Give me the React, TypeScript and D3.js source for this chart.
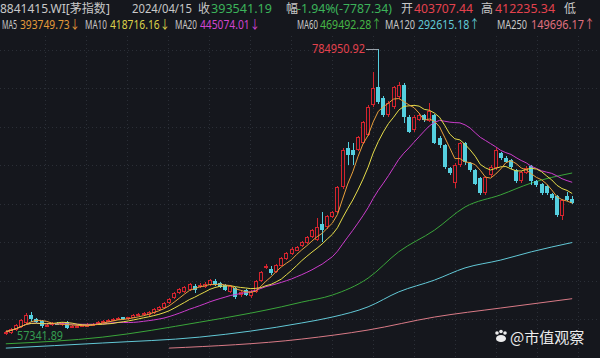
import React, { useLayoutEffect, useRef, useState } from 'react';
import * as d3 from 'd3';

const W = 600;
const H = 358;

// Candles (values in thousands)
const opens = [60, 62, 70, 77, 88, 108, 98, 92, 81, 83, 86, 84, 90, 76, 79, 80, 82, 83, 85, 90, 93, 95, 97, 102, 97, 101, 107, 110, 108, 114, 121, 127, 138, 151, 163, 167, 172, 182, 180, 180, 185, 195, 190, 184, 167, 178, 160, 172, 156, 167, 195, 227, 224, 218, 234, 250, 263, 272, 284, 291, 306, 298, 340, 332, 357, 370, 433, 533, 528, 528, 546, 566, 642, 689, 660, 617, 637, 662, 693, 612, 579, 604, 617, 602, 617, 558, 541, 482, 444, 490, 546, 495, 477, 457, 419, 464, 482, 520, 508, 503, 477, 449, 470, 487, 449, 441, 436, 416, 411, 360, 412, 403.70744];
const closes = [66, 72, 82, 95, 108, 98, 90, 80, 84, 87, 85, 88, 75, 80, 81, 83, 84, 86, 91, 94, 96, 98, 100, 97, 102, 108, 111, 114, 116, 124, 129, 139, 149, 164, 174, 180, 187, 172, 185, 188, 197, 185, 180, 172, 182, 155, 167, 159, 168, 195, 218, 232, 215, 235, 253, 265, 277, 281, 294, 306, 324, 332, 324, 360, 370, 434, 528, 515, 515, 560, 599, 637, 686, 650, 617, 647, 688, 693, 612, 574, 612, 617, 604, 627, 546, 541, 485, 469, 490, 546, 498, 477, 442, 419, 459, 485, 528, 508, 498, 485, 449, 472, 482, 449, 439, 419, 419, 406, 363, 401, 401.32853, 393.54119];
const highs = [70, 74, 85, 98, 113, 115, 100, 95, 88, 90, 90, 91, 93, 83, 84, 85, 87, 88, 93, 96, 98, 100, 102, 104, 104, 110, 113, 116, 118, 126, 131, 141, 151, 166, 176, 183, 190, 187, 190, 192, 200, 200, 193, 187, 185, 180, 170, 175, 171, 197, 221, 238, 232, 238, 256, 268, 280, 284, 297, 309, 327, 355, 370, 363, 373, 437, 532, 548, 546, 564, 603, 642, 726, 784.95092, 665, 652, 692, 701, 698, 617, 617, 622, 620, 647, 620, 563, 543, 485, 495, 549, 549, 498, 480, 460, 462, 490, 533, 523, 512, 506, 480, 475, 487, 490, 452, 444, 439, 419, 414, 404, 420, 412.23534];
const lows = [57.34189, 60, 68, 75, 85, 90, 87, 76, 78, 80, 82, 81, 72, 74, 77, 78, 80, 81, 83, 88, 91, 93, 95, 95, 95, 100, 105, 108, 106, 112, 119, 125, 136, 149, 161, 165, 170, 165, 178, 178, 183, 183, 177, 170, 164, 150, 155, 156, 152, 165, 193, 225, 210, 215, 232, 247, 260, 270, 281, 288, 303, 296, 294, 328, 354, 367, 430, 490, 490, 525, 543, 563, 638, 645, 612, 612, 632, 658, 597, 570, 574, 602, 600, 599, 543, 533, 480, 465, 432, 485, 490, 472, 438, 414, 414, 460, 478, 503, 495, 480, 444, 444, 467, 440, 434, 414, 414, 401, 358, 350, 398, 390];

// Long moving averages (candle index, value in thousands)
const ma60Idx = [0, 19, 38, 48, 54, 58, 64, 71, 77, 84, 90, 97, 103, 111];
const ma60Val = [35, 52, 90, 113, 129, 141, 159, 202, 269, 324, 383, 414, 444, 469.49228];
const ma120Idx = [0, 19, 38, 58, 64, 71, 77, 84, 90, 97, 103, 111];
const ma120Val = [24, 37, 52, 88, 103, 129, 167, 197, 228, 248, 269, 292.61518];
const ma250Idx = [32, 58, 71, 84, 97, 111];
const ma250Val = [24, 47, 70, 103, 126, 149.69617];

// Header texts
const title = '8841415.WI[茅指数]';
const dateLabel = '2024/04/15';
const closeLabel = '393541.19';
const changeLabel = '-1.94%(-7787.34)';
const openLabel = '403707.44';
const highLabel = '412235.34';
const maNames = ['MA5', 'MA10', 'MA20', 'MA60', 'MA120', 'MA250'];
const maLabels = ['393749.73↓', '418716.16↓', '445074.01↓', '469492.28↑', '292615.18↑', '149696.17↑'];
const maxLabel = '784950.92';
const minLabel = '57341.89';

const BG = '#15171d';
const UP = '#d3242e';
const DOWN = '#55cfdf';
const MA_COLORS = ['#e8a03c', '#e6dc4a', '#cc3ccc', '#3aa53a', '#62c8d6', '#d97a86'];
const LABEL_COLORS = ['#e39a3a', '#dcd24a', '#d045d0', '#45b545', '#62cad6', '#e0707e'];
const GREEN = '#3cb35a';
const RED = '#e4424e';
const GRAY = '#c8c8c8';
const FONT = "'Noto Sans', 'Noto Sans CJK SC', sans-serif";

const idx = d3.range(closes.length);

const x = d3.scaleBand<number>().domain(idx).range([2.5, 575.5]).padding(0.3);
const cx = (i: number) => (x(i) as number) + x.bandwidth() / 2;
const y = d3.scaleLinear().domain([57.34189, 784.95092]).range([335, 49]);

function movingAvg(n: number) {
  return closes.map((_, i) => d3.mean(closes.slice(Math.max(0, i - n + 1), i + 1)) as number);
}

const ma5 = movingAvg(5);
const ma10 = movingAvg(10);
const ma20 = movingAvg(20);

const lineIdx = d3.line<number>().x((_, k) => cx(k)).y((v) => y(v));
function sparseLine(ix: number[], vals: number[]) {
  return d3
    .line<number>()
    .x((_, k) => cx(ix[k]))
    .y((v) => y(v))
    .curve(d3.curveMonotoneX)(vals) as string;
}

const hGrid = d3.range(8).map((k) => 49.5 + 38.5 * k);
const vGrid = d3.range(14).map((k) => 45 + 41 * k);

// Text that is horizontally fitted to a measured width via a transform
function T(props: { x: number; y: number; fill: string; len?: number; size?: number; children: React.ReactNode }) {
  const { x: tx, y: ty, fill, len, size = 12, children } = props;
  const ref = useRef<SVGTextElement>(null);
  const [s, setS] = useState(1);
  useLayoutEffect(() => {
    if (ref.current && len) {
      const w = ref.current.getComputedTextLength();
      if (w > 0) setS(len / w);
    }
  }, [len]);
  return (
    <text ref={ref} transform={`translate(${tx},${ty}) scale(${s},1)`} fill={fill} fontSize={size}>
      {children}
    </text>
  );
}

export default function App() {
  const maxI = highs.indexOf(d3.max(highs) as number);
  const minI = lows.indexOf(d3.min(lows) as number);
  const bw = 4;
  const line1Y = 13;
  const line2Y = 29;
  const maNameX = [2, 85, 175, 297, 385, 497];
  const maNameLen = [15, 22, 22, 21, 30, 30];
  const maValX = [20, 110, 200, 320, 418, 531];
  const maValLen = [60, 60, 60, 62, 62, 64];
  return (
    <svg
      width={W}
      height={H}
      style={{ position: 'absolute', left: 0, top: 0, background: BG }}
      fontFamily={FONT}
    >
      <rect x={0} y={0} width={W} height={H} fill={BG} />
      <defs>
        <clipPath id="plot">
          <rect x={0} y={36} width={W} height={313} />
        </clipPath>
      </defs>
      <g stroke="#2b2f37" strokeWidth={1} strokeDasharray="1,3">
        {hGrid.map((gy, k) => (
          <line key={'h' + k} x1={0} x2={W} y1={Math.round(gy) + 0.5} y2={Math.round(gy) + 0.5} />
        ))}
        {vGrid.map((gx, k) => (
          <line key={'v' + k} x1={gx + 0.5} x2={gx + 0.5} y1={36} y2={H} />
        ))}
      </g>
      <g clipPath="url(#plot)" fill="none" strokeWidth={1}>
        <path d={sparseLine(ma250Idx, ma250Val)} stroke={MA_COLORS[5]} />
        <path d={sparseLine(ma120Idx, ma120Val)} stroke={MA_COLORS[4]} />
        <path d={sparseLine(ma60Idx, ma60Val)} stroke={MA_COLORS[3]} />
      </g>
      <g>
        {idx.map((i) => {
          const up = closes[i] >= opens[i];
          const c = Math.round(cx(i));
          const top = Math.round(y(Math.max(opens[i], closes[i])));
          const bot = Math.round(y(Math.min(opens[i], closes[i])));
          const hy = Math.round(y(highs[i]));
          const ly = Math.round(y(lows[i]));
          const h = Math.max(1, bot - top);
          const left = c - bw / 2;
          return (
            <g key={i}>
              <line x1={c + 0.5} x2={c + 0.5} y1={hy} y2={ly} stroke={up ? UP : DOWN} strokeWidth={1} />
              {up ? (
                <rect x={left + 0.5} y={top + 0.5} width={bw - 1} height={Math.max(1, h - 1)} fill={BG} stroke={UP} strokeWidth={1} />
              ) : (
                <rect x={left} y={top} width={bw} height={h} fill={DOWN} />
              )}
            </g>
          );
        })}
      </g>
      <g clipPath="url(#plot)" fill="none" strokeWidth={1}>
        <path d={lineIdx(ma20) as string} stroke={MA_COLORS[2]} />
        <path d={lineIdx(ma10) as string} stroke={MA_COLORS[1]} />
        <path d={lineIdx(ma5) as string} stroke={MA_COLORS[0]} />
      </g>
      {/* max annotation */}
      <line x1={366} x2={Math.round(cx(maxI)) + 0.5} y1={y(highs[maxI]) + 0.5} y2={y(highs[maxI]) + 0.5} stroke="#9aa0a8" />
      <T x={312} y={y(highs[maxI]) + 4} fill={RED} len={53}>{maxLabel}</T>
      {/* min annotation */}
      <g opacity={0.85}>
        <T x={17} y={y(lows[minI]) + 5} fill={GREEN} len={46}>{minLabel}</T>
      </g>

      {/* header */}
      <T x={0} y={line1Y} fill={GRAY} len={110}>{title}</T>
      <T x={132} y={line1Y} fill={GRAY} len={60}>{dateLabel}</T>
      <T x={198} y={line1Y} fill={GRAY}>收</T>
      <T x={211} y={line1Y} fill={GREEN} len={61}>{closeLabel}</T>
      <T x={286} y={line1Y} fill={GRAY}>幅</T>
      <T x={297} y={line1Y} fill={GREEN} len={95}>{changeLabel}</T>
      <T x={401} y={line1Y} fill={GRAY}>开</T>
      <T x={414} y={line1Y} fill={RED} len={59}>{openLabel}</T>
      <T x={481} y={line1Y} fill={GRAY}>高</T>
      <T x={495} y={line1Y} fill={RED} len={60}>{highLabel}</T>
      <T x={564} y={line1Y} fill={GRAY}>低</T>
      {maNames.map((n, k) => (
        <g key={n}>
          <T x={maNameX[k]} y={line2Y} fill={GRAY} len={maNameLen[k]}>{n}</T>
          <T x={maValX[k]} y={line2Y} fill={LABEL_COLORS[k]} len={maValLen[k]}>{maLabels[k]}</T>
        </g>
      ))}
      {/* watermark */}
      <g fill="#ffffff" opacity={0.92}>
        <circle cx={497} cy={333} r={1.8} />
        <circle cx={501} cy={331.5} r={1.8} />
        <circle cx={505} cy={333} r={1.8} />
        <ellipse cx={501} cy={338.5} rx={5} ry={3.6} />
        <text x={510} y={343} fontSize={15} fontFamily="'Noto Sans CJK SC', sans-serif">@市值观察</text>
      </g>
    </svg>
  );
}
